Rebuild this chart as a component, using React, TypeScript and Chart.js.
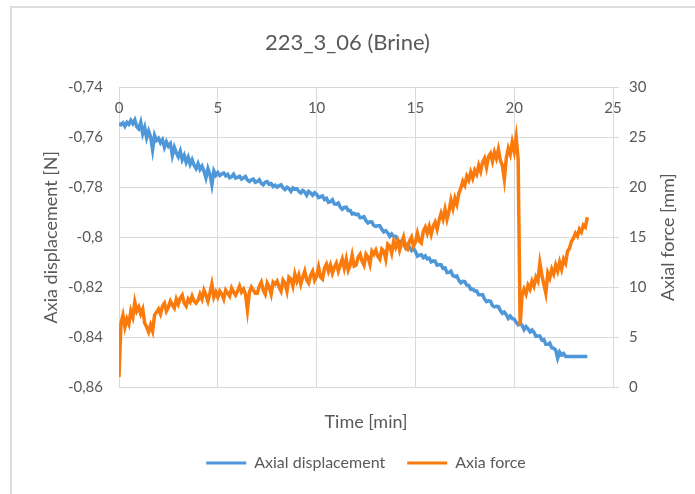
import { useEffect, useRef } from 'react';
import { Chart, registerables } from 'chart.js';

Chart.register(...registerables);

const chartTitle = '223_3_06 (Brine)';
const timeTitle = 'Time [min]';
const dispTitle = 'Axia displacement [N]';
const forceTitle = 'Axial force [mm]';
const dispLabel = 'Axial displacement';
const forceLabel = 'Axia force';

// Sample times [min]
const time = [
  0, 0.1, 0.2, 0.3, 0.4, 0.5, 0.6, 0.7, 0.8, 0.9,
  1, 1.1, 1.2, 1.3, 1.4, 1.5, 1.6, 1.7, 1.8, 1.9,
  2, 2.1, 2.2, 2.3, 2.4, 2.5, 2.6, 2.7, 2.8, 2.9,
  3, 3.1, 3.2, 3.3, 3.4, 3.5, 3.6, 3.7, 3.8, 3.9,
  4, 4.1, 4.2, 4.3, 4.4, 4.5, 4.6, 4.7, 4.8, 4.9,
  5, 5.1, 5.2, 5.3, 5.4, 5.5, 5.6, 5.7, 5.8, 5.9,
  6, 6.1, 6.2, 6.3, 6.4, 6.5, 6.6, 6.7, 6.8, 6.9,
  7, 7.1, 7.2, 7.3, 7.4, 7.5, 7.6, 7.7, 7.8, 7.9,
  8, 8.1, 8.2, 8.3, 8.4, 8.5, 8.6, 8.7, 8.8, 8.9,
  9, 9.1, 9.2, 9.3, 9.4, 9.5, 9.6, 9.7, 9.8, 9.9,
  10, 10.1, 10.2, 10.3, 10.4, 10.5, 10.6, 10.7, 10.8, 10.9,
  11, 11.1, 11.2, 11.3, 11.4, 11.5, 11.6, 11.7, 11.8, 11.9,
  12, 12.1, 12.2, 12.3, 12.4, 12.5, 12.6, 12.7, 12.8, 12.9,
  13, 13.1, 13.2, 13.3, 13.4, 13.5, 13.6, 13.7, 13.8, 13.9,
  14, 14.1, 14.2, 14.3, 14.4, 14.5, 14.6, 14.7, 14.8, 14.9,
  15, 15.1, 15.2, 15.3, 15.4, 15.5, 15.6, 15.7, 15.8, 15.9,
  16, 16.1, 16.2, 16.3, 16.4, 16.5, 16.6, 16.7, 16.8, 16.9,
  17, 17.1, 17.2, 17.3, 17.4, 17.5, 17.6, 17.7, 17.8, 17.9,
  18, 18.1, 18.2, 18.3, 18.4, 18.5, 18.6, 18.7, 18.8, 18.9,
  19, 19.1, 19.2, 19.3, 19.4, 19.5, 19.6, 19.7, 19.8, 19.9,
  20, 20.1, 20.2, 20.3, 20.4, 20.5, 20.6, 20.7, 20.8, 20.9,
  21, 21.1, 21.2, 21.3, 21.4, 21.5, 21.6, 21.7, 21.8, 21.9,
  22, 22.1, 22.2, 22.3, 22.4, 22.5, 22.6, 22.7, 22.8, 22.9,
  23, 23.1, 23.2, 23.3, 23.4, 23.5, 23.6, 23.7,
];

// Axial displacement (left axis)
const axialDisplacement = [
  -0.7545, -0.755, -0.7542, -0.7556, -0.754, -0.7548, -0.7532, -0.7545, -0.753, -0.7558,
  -0.7566, -0.754, -0.7585, -0.756, -0.7602, -0.7575, -0.7598, -0.765, -0.7592, -0.7612,
  -0.7604, -0.7622, -0.761, -0.764, -0.7618, -0.7635, -0.7625, -0.7672, -0.764, -0.7662,
  -0.7678, -0.7655, -0.769, -0.7672, -0.77, -0.768, -0.7708, -0.769, -0.7712, -0.7725,
  -0.7705, -0.7728, -0.7715, -0.7735, -0.7762, -0.7725, -0.7748, -0.779, -0.7735, -0.7752,
  -0.7741, -0.7753, -0.7747, -0.7743, -0.7754, -0.7748, -0.7762, -0.7758, -0.7748, -0.7763,
  -0.776, -0.7756, -0.7767, -0.7762, -0.7757, -0.7771, -0.7777, -0.777, -0.7767, -0.778,
  -0.7777, -0.777, -0.7784, -0.779, -0.778, -0.7777, -0.7788, -0.7785, -0.7797, -0.7792,
  -0.78, -0.7794, -0.779, -0.7802, -0.7809, -0.78, -0.7805, -0.7816, -0.7803, -0.7808,
  -0.7806, -0.7816, -0.7823, -0.7813, -0.7819, -0.7832, -0.7817, -0.7823, -0.7832, -0.7822,
  -0.7828, -0.7841, -0.7838, -0.7835, -0.7849, -0.7844, -0.786, -0.7858, -0.785, -0.7867,
  -0.7868, -0.7863, -0.788, -0.7888, -0.7881, -0.788, -0.7893, -0.7893, -0.7907, -0.7905,
  -0.791, -0.7908, -0.7922, -0.7921, -0.7918, -0.7934, -0.7943, -0.7938, -0.7939, -0.7954,
  -0.7957, -0.7954, -0.7954, -0.7969, -0.7979, -0.7974, -0.7983, -0.7997, -0.7987, -0.7996,
  -0.7997, -0.8011, -0.8021, -0.8015, -0.8025, -0.8042, -0.803, -0.804, -0.8053, -0.8046,
  -0.8057, -0.8076, -0.8072, -0.807, -0.8082, -0.8075, -0.8087, -0.8084, -0.8099, -0.8095,
  -0.8096, -0.8112, -0.811, -0.811, -0.8125, -0.8123, -0.8142, -0.8141, -0.8136, -0.8154,
  -0.8158, -0.8155, -0.8173, -0.8183, -0.8177, -0.8178, -0.8192, -0.8193, -0.8209, -0.8208,
  -0.8215, -0.8215, -0.8231, -0.8231, -0.823, -0.8248, -0.8258, -0.8255, -0.8257, -0.8274,
  -0.8279, -0.8277, -0.8278, -0.8294, -0.8305, -0.83, -0.831, -0.8325, -0.8316, -0.8326,
  -0.8328, -0.8341, -0.8351, -0.8344, -0.8353, -0.837, -0.8358, -0.8367, -0.8379, -0.8372,
  -0.8381, -0.8397, -0.8396, -0.8396, -0.8412, -0.841, -0.8429, -0.8429, -0.8424, -0.8443,
  -0.8445, -0.8452, -0.8485, -0.846, -0.8472, -0.8466, -0.8478, -0.8478, -0.8478, -0.8478,
  -0.8478, -0.8478, -0.8478, -0.8478, -0.8478, -0.8478, -0.8478, -0.8478,
];

// Axial force (right axis)
const axialForce = [
  1.0, 6.4, 7.2, 6.0, 6.8, 6.3, 7.6, 7.0, 8.5, 7.6,
  8.0, 7.3, 7.8, 6.4, 6.0, 5.5, 6.2, 5.6, 7.2, 7.5,
  7.8, 7.3, 8.1, 8.4, 7.6, 8.0, 8.6, 8.2, 7.9, 8.8,
  8.3, 8.9, 9.2, 8.4, 8.1, 8.8, 8.5, 9.1, 8.6, 8.4,
  8.7, 9.3, 8.8, 9.7, 9.2, 8.6, 9.4, 10.3, 9.0, 9.5,
  9.0, 9.6, 9.3, 8.8, 9.7, 9.4, 9.1, 9.9, 9.5, 9.2,
  9.6, 10.1, 9.5, 9.8, 9.3, 7.7, 9.5, 10.0, 9.7, 9.4,
  9.4, 10.1, 10.5, 9.7, 9.3, 10.4, 10.0, 9.3, 10.5, 10.3,
  10.6, 10.0, 9.6, 10.7, 10.4, 9.6, 11.0, 10.8, 10.1, 11.3,
  10.6, 11.2, 10.3, 11.0, 11.6, 10.7, 10.4, 11.2, 11.6, 10.7,
  11.1, 12.0, 11.0, 10.8, 11.9, 12.3, 11.6, 12.2, 11.4, 12.0,
  12.4, 11.6, 12.2, 12.8, 11.9, 12.8, 11.7, 12.2, 13.2, 12.1,
  12.2, 13.0, 13.3, 12.6, 12.2, 13.3, 13.0, 12.3, 13.6, 13.3,
  13.7, 13.1, 12.8, 13.8, 13.6, 12.8, 14.3, 14.1, 13.4, 14.6,
  14.0, 14.6, 13.7, 14.4, 15.0, 14.0, 13.8, 14.6, 15.0, 14.1,
  14.5, 15.4, 14.6, 14.4, 15.6, 16.0, 15.4, 16.1, 15.3, 16.1,
  16.5, 15.8, 16.7, 17.4, 16.8, 17.8, 16.8, 17.6, 18.7, 17.9,
  18.9, 18.3, 19.4, 19.9, 20.6, 20.2, 21.1, 20.7, 21.5, 20.9,
  21.7, 21.3, 22.2, 21.6, 22.5, 22.9, 22.0, 23.1, 23.4, 22.6,
  23.5, 22.9, 23.8, 22.7, 22.2, 20.8, 22.9, 23.9, 23.3, 24.5,
  23.6, 25.0, 22.8, 6.2, 9.2, 9.8, 9.3, 10.2, 9.8, 10.6,
  10.1, 11.0, 10.6, 12.4, 11.2, 10.3, 9.4, 11.4, 10.9, 11.8,
  11.3, 12.2, 11.6, 12.5, 11.8, 12.8, 12.4, 13.6, 13.9, 14.6,
  14.9, 15.4, 15.1, 15.8, 15.5, 16.2, 16.0, 17.0,
];

const timeMin = 0;
const timeMax = 25;
const timeStep = 5;
const dispMin = -0.86;
const dispMax = -0.74;
const dispStep = 0.02;
const forceMin = 0;
const forceMax = 30;
const forceStep = 5;

const BLUE = '#4e98d9';
const ORANGE = '#fa7b0c';
const TEXT = '#595959';
const GRID = '#d9d9d9';
const FONT = 'Lato';

const fmtComma = (v: number) => String(Number(v.toFixed(2))).replace('.', ',');

// Time tick labels sit just inside the top edge of the plot area
const topTimeLabels = {
  id: 'topTimeLabels',
  beforeDatasetsDraw(chart: any) {
    const s = chart.scales.x;
    const ctx = chart.ctx;
    ctx.save();
    ctx.font = `15px ${FONT}`;
    ctx.fillStyle = TEXT;
    ctx.textAlign = 'center';
    ctx.textBaseline = 'middle';
    s.ticks.forEach((t: any) => {
      ctx.fillText(String(t.value), s.getPixelForValue(t.value), chart.chartArea.top + 21);
    });
    ctx.restore();
  },
};

// Secondary axis title, written bottom-to-top beside the right scale
const rightTitlePlugin = {
  id: 'rightTitle',
  afterDraw(chart: any) {
    const s = chart.scales.y1;
    const ctx = chart.ctx;
    ctx.save();
    ctx.font = `18px ${FONT}`;
    ctx.fillStyle = TEXT;
    ctx.textAlign = 'center';
    ctx.textBaseline = 'middle';
    ctx.translate(s.right - 27, (s.top + s.bottom) / 2);
    ctx.rotate(-Math.PI / 2);
    ctx.fillText(forceTitle, 0, 0);
    ctx.restore();
  },
};

export default function App() {
  const canvasRef = useRef<HTMLCanvasElement | null>(null);

  useEffect(() => {
    if (!canvasRef.current) return;
    const chart = new Chart(canvasRef.current, {
      type: 'line',
      data: {
        datasets: [
          {
            label: dispLabel,
            data: time.map((t, i) => ({ x: t, y: axialDisplacement[i] })),
            borderColor: BLUE,
            backgroundColor: BLUE,
            borderWidth: 3.5,
            pointRadius: 0,
            tension: 0,
            yAxisID: 'y',
            order: 1,
          },
          {
            label: forceLabel,
            data: time.map((t, i) => ({ x: t, y: axialForce[i] })),
            borderColor: ORANGE,
            backgroundColor: ORANGE,
            borderWidth: 3.5,
            pointRadius: 0,
            tension: 0,
            yAxisID: 'y1',
            order: 0,
          },
        ],
      },
      options: {
        animation: false,
        responsive: true,
        maintainAspectRatio: false,
        layout: { padding: { left: 0, right: 0, top: 0, bottom: 13 } },
        plugins: {
          title: {
            display: true,
            text: chartTitle,
            color: TEXT,
            font: { family: FONT, size: 22, weight: 'normal' },
            padding: { top: 30, bottom: 31 },
          },
          legend: {
            position: 'bottom',
            fullSize: false,
            labels: {
              boxWidth: 40,
              boxHeight: 3,
              color: TEXT,
              font: { family: FONT, size: 16 },
              padding: 22,
              generateLabels: (c: any) =>
                c.data.datasets.map((ds: any, i: number) => ({
                  text: ds.label,
                  fillStyle: ds.borderColor,
                  strokeStyle: ds.borderColor,
                  lineWidth: 0,
                  hidden: false,
                  datasetIndex: i,
                  fontColor: TEXT,
                })),
            },
          },
          tooltip: { enabled: false },
        },
        scales: {
          x: {
            type: 'linear',
            position: 'bottom',
            min: timeMin,
            max: timeMax,
            ticks: { display: false, stepSize: timeStep },
            grid: { color: GRID, drawTicks: false, lineWidth: 1 },
            border: { display: false },
            title: {
              display: true,
              text: timeTitle,
              color: TEXT,
              font: { family: FONT, size: 18 },
              padding: { top: 7, bottom: 0 },
            },
            afterFit: (s: any) => {
              s.height = 46;
            },
          },
          y: {
            type: 'linear',
            position: 'left',
            min: dispMin,
            max: dispMax,
            ticks: {
              stepSize: dispStep,
              color: TEXT,
              font: { family: FONT, size: 15 },
              padding: 16,
              callback: (v: any) => fmtComma(Number(v)),
            },
            grid: { color: GRID, drawTicks: false, lineWidth: 1 },
            border: { display: false },
            title: {
              display: true,
              text: dispTitle,
              color: TEXT,
              font: { family: FONT, size: 18 },
              padding: { top: 40, bottom: 0 },
            },
            afterFit: (s: any) => {
              s.width = 119;
            },
          },
          y1: {
            type: 'linear',
            position: 'right',
            min: forceMin,
            max: forceMax,
            ticks: {
              stepSize: forceStep,
              color: TEXT,
              font: { family: FONT, size: 15 },
              padding: 10,
            },
            grid: { drawOnChartArea: false, color: GRID, tickLength: 6, drawTicks: true },
            border: { display: false },
            afterFit: (s: any) => {
              s.width = 82;
            },
          },
        },
      },
      plugins: [topTimeLabels, rightTitlePlugin],
    } as any);
    return () => chart.destroy();
  }, []);

  return (
    <>
      <div
        style={{
          position: 'fixed',
          left: 10,
          top: 6,
          width: 700,
          height: 500,
          borderTop: '2px solid #dedede',
          borderLeft: '2px solid #dedede',
        }}
      />
      <div style={{ position: 'fixed', left: 0, top: 0, width: 695, height: 494 }}>
        <canvas ref={canvasRef} />
      </div>
    </>
  );
}
